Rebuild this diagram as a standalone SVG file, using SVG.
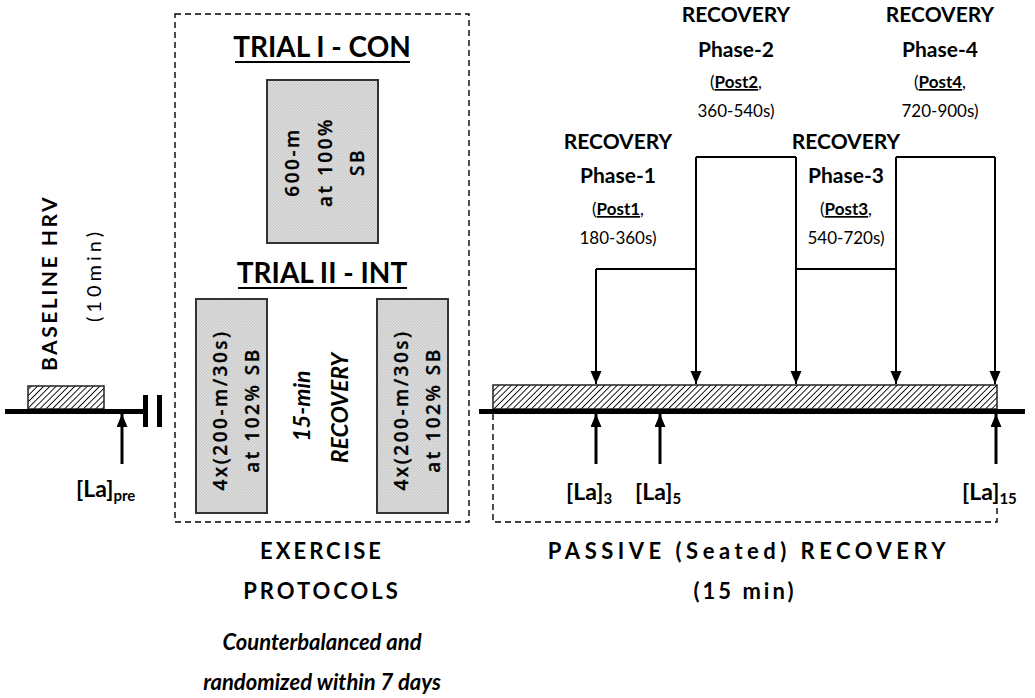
<svg xmlns="http://www.w3.org/2000/svg" width="1035" height="698" viewBox="0 0 1035 698">
<style>
text{font-family:Lato,"Open Sans","Liberation Sans",sans-serif;fill:#000}
.b{font-weight:bold}
.hdr{font-size:21px;font-weight:bold;text-anchor:middle}
.sub{font-size:17px;text-anchor:middle}
.la{font-size:23px;font-weight:bold}
.ls{font-size:15px;font-weight:bold}
.rot{font-family:"Open Sans",Lato,sans-serif;font-size:19px;font-weight:600;text-anchor:middle;letter-spacing:2.5px;stroke:#000;stroke-width:0.3px}
.cap{font-size:22px;font-weight:bold;text-anchor:middle;letter-spacing:3px}
.it{font-size:22px;font-weight:bold;font-style:italic;text-anchor:middle}
.title{font-size:28px;font-weight:bold;text-anchor:middle}
.conn{stroke:#000;stroke-width:2;fill:none}
.dash{stroke:#000;stroke-width:1.4;fill:none;stroke-dasharray:6 4}
.axis{stroke:#000;stroke-width:5;fill:none}
.gray{fill:url(#dots);stroke:#333;stroke-width:2}
.hatch{fill:url(#hatch);stroke:#222;stroke-width:1.5}
.up{stroke:#000;stroke-width:3;fill:none}
</style>
<defs>
<pattern id="hatch" patternUnits="userSpaceOnUse" width="4.4" height="4.4" patternTransform="rotate(45)">
<rect width="4.4" height="4.4" fill="#fff"/>
<line x1="0" y1="0" x2="0" y2="4.4" stroke="#000" stroke-width="1.8"/>
</pattern>
<pattern id="dots" patternUnits="userSpaceOnUse" width="3" height="3">
<rect width="3" height="3" fill="#dedede"/>
<rect width="1.5" height="1.5" fill="#c8c8c8"/>
<rect x="1.5" y="1.5" width="1.5" height="1.5" fill="#cdcdcd"/>
</pattern>
<marker id="ah" markerUnits="userSpaceOnUse" markerWidth="14" markerHeight="12" refX="13" refY="5.5" orient="auto">
<path d="M0,0 L13,5.5 L0,11 z" fill="#000"/>
</marker>
</defs>

<g id="baseline">
<rect class="hatch" x="28" y="386" width="76" height="23"/>
<line class="axis" x1="5" y1="411.5" x2="145" y2="411.5"/>
<rect x="143" y="395" width="5" height="32" fill="#000"/>
<rect x="157" y="395" width="5" height="32" fill="#000"/>
<text transform="translate(48,283) rotate(-90)" dominant-baseline="central" style="font-size:21px;font-weight:bold;letter-spacing:2.5px;text-anchor:middle">BASELINE HRV</text>
<text transform="translate(93,275) rotate(-90)" dominant-baseline="central" style="font-size:20px;letter-spacing:4px;text-anchor:middle">(10min)</text>
<line class="up" x1="122" y1="464" x2="122" y2="414" marker-end="url(#ah)"/>
<text class="la" x="76" y="497">[La]<tspan class="ls" dy="4">pre</tspan></text>
</g>

<g id="exercise">
<rect class="dash" x="175" y="14" width="294" height="508"/>
<text class="title" x="322" y="57">TRIAL I - CON</text>
<line x1="235" y1="62" x2="410" y2="62" stroke="#000" stroke-width="2"/>
<rect class="gray" x="267" y="80" width="111" height="163"/>
<text class="rot" transform="translate(292,162) rotate(-90)" dominant-baseline="central">600-m</text>
<text class="rot" transform="translate(325,162) rotate(-90)" dominant-baseline="central">at 100%</text>
<text class="rot" transform="translate(357,162) rotate(-90)" dominant-baseline="central">SB</text>
<text class="title" x="322" y="283">TRIAL II - INT</text>
<line x1="238" y1="288" x2="407" y2="288" stroke="#000" stroke-width="2"/>
<rect class="gray" x="196" y="299" width="71" height="214"/>
<text class="rot" transform="translate(220,410) rotate(-90)" dominant-baseline="central">4x(200-m/30s)</text>
<text class="rot" transform="translate(252,410) rotate(-90)" dominant-baseline="central">at 102% SB</text>
<rect class="gray" x="377" y="299" width="71" height="214"/>
<text class="rot" transform="translate(401,410) rotate(-90)" dominant-baseline="central">4x(200-m/30s)</text>
<text class="rot" transform="translate(433,410) rotate(-90)" dominant-baseline="central">at 102% SB</text>
<text class="it" transform="translate(301,406) rotate(-90)" dominant-baseline="central" style="font-size:23px">15-min</text>
<text class="it" transform="translate(339,408) rotate(-90)" dominant-baseline="central" style="font-size:23px">RECOVERY</text>
<text class="cap" x="322" y="559">EXERCISE</text>
<text class="cap" x="322" y="599">PROTOCOLS</text>
<text class="it" x="322" y="650">Counterbalanced and</text>
<text class="it" x="322" y="690">randomized within 7 days</text>
</g>

<g id="recovery">
<rect class="hatch" x="493" y="385" width="504" height="24"/>
<line class="axis" x1="479" y1="411.5" x2="1025" y2="411.5"/>
<path class="dash" d="M493,414 V522 H997 V506"/>
<text class="cap" x="749" y="559" style="letter-spacing:4.5px">PASSIVE (Seated) RECOVERY</text>
<text class="cap" x="745" y="599">(15 min)</text>
<line class="up" x1="596" y1="464" x2="596" y2="414" marker-end="url(#ah)"/>
<line class="up" x1="660" y1="464" x2="660" y2="414" marker-end="url(#ah)"/>
<line class="up" x1="996" y1="464" x2="996" y2="414" marker-end="url(#ah)"/>
<text class="la" x="566" y="500">[La]<tspan class="ls" dy="4">3</tspan></text>
<text class="la" x="635" y="500">[La]<tspan class="ls" dy="4">5</tspan></text>
<text class="la" x="962" y="500">[La]<tspan class="ls" dy="4">15</tspan></text>
</g>

<g id="phase1">
<text class="hdr" x="618" y="149">RECOVERY</text>
<text class="hdr" x="618" y="183">Phase-1</text>
<text class="sub" x="618" y="215">(<tspan class="b" text-decoration="underline">Post1</tspan>,</text>
<text class="sub" x="618" y="244">180-360s)</text>
</g>
<g id="phase2">
<text class="hdr" x="736" y="22">RECOVERY</text>
<text class="hdr" x="736" y="57">Phase-2</text>
<text class="sub" x="736" y="88">(<tspan class="b" text-decoration="underline">Post2</tspan>,</text>
<text class="sub" x="736" y="117">360-540s)</text>
</g>
<g id="phase3">
<text class="hdr" x="846" y="149">RECOVERY</text>
<text class="hdr" x="846" y="183">Phase-3</text>
<text class="sub" x="846" y="215">(<tspan class="b" text-decoration="underline">Post3</tspan>,</text>
<text class="sub" x="846" y="244">540-720s)</text>
</g>
<g id="phase4">
<text class="hdr" x="940" y="22">RECOVERY</text>
<text class="hdr" x="940" y="57">Phase-4</text>
<text class="sub" x="940" y="88">(<tspan class="b" text-decoration="underline">Post4</tspan>,</text>
<text class="sub" x="940" y="117">720-900s)</text>
</g>

<g id="connectors">
<path class="conn" d="M596,269 H696 M696,157 H796 M796,269 H896 M896,157 H995"/>
<line class="conn" x1="596" y1="269" x2="596" y2="384" marker-end="url(#ah)"/>
<line class="conn" x1="696" y1="157" x2="696" y2="384" marker-end="url(#ah)"/>
<line class="conn" x1="796" y1="157" x2="796" y2="384" marker-end="url(#ah)"/>
<line class="conn" x1="896" y1="157" x2="896" y2="384" marker-end="url(#ah)"/>
<line class="conn" x1="995" y1="157" x2="995" y2="384" marker-end="url(#ah)"/>
</g>
</svg>
